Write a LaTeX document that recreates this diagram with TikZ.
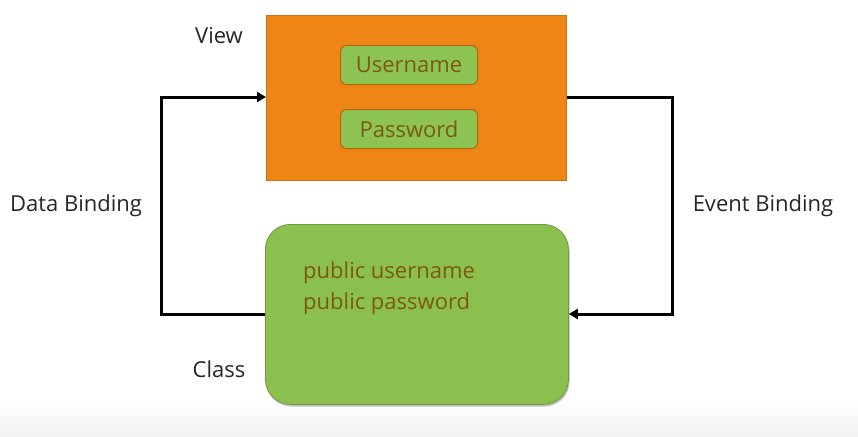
\documentclass[tikz,border=0pt]{standalone}
\usepackage{fontspec}
\setmainfont{Open Sans}
\usetikzlibrary{arrows.meta}
\definecolor{vieworange}{HTML}{EE8514}
\definecolor{classgreen}{HTML}{8BBF4E}
\definecolor{fieldgreen}{HTML}{8DC352}
\definecolor{browntext}{HTML}{7A5A10}
\definecolor{fieldborder}{HTML}{B0660F}
\tikzset{
  lbl/.style={font=\fontsize{22}{26}\selectfont, text=black!85, inner sep=0pt},
  field/.style={draw=fieldborder, line width=1pt, fill=fieldgreen, rounded corners=6pt,
    minimum width=137pt, minimum height=39pt, text=browntext,
    font=\fontsize{22}{26}\selectfont, inner sep=0pt},
  conn/.style={line width=3pt, draw=black, -{Triangle[length=9pt,width=10pt]}},
}
\begin{document}
\begin{tikzpicture}[x=1pt,y=-1pt]
\useasboundingbox (0,0) rectangle (858,436);
\shade[top color=white, bottom color=black!5] (0,400) rectangle (858,436);
% view box
\node[draw=vieworange!85!black, line width=0.8pt, fill=vieworange, minimum width=300pt, minimum height=165pt, inner sep=0pt, anchor=north west] (view) at (266,15) {};
\node[field] (user) at (409,65) {Username};
\node[field] (pass) at (409,129) {Password};
% class box
\fill[black!25, rounded corners=25pt] (266.5,226.5) rectangle (569.5,406.5);
\node[draw=classgreen!80!black, line width=0.8pt, fill=classgreen, rounded corners=25pt, minimum width=303pt, minimum height=180pt, inner sep=0pt, anchor=north west] (cls) at (265,224) {};
\node[text=browntext, font=\fontsize{22}{31}\selectfont, align=left, anchor=north west, inner sep=0pt] (fields) at (303,262) {public username\\public password};
% labels
\node[lbl] (viewlbl) at (219,36) {View};
\node[lbl] (classlbl) at (219,369) {Class};
\node[lbl] (dblbl) at (76,206) {Data Binding};
\node[lbl] (eblbl) at (763,206) {Event Binding};
% connectors
\coordinate (lt) at (161,97);
\coordinate (lb) at (161,314);
\coordinate (rt) at (672,97);
\coordinate (rb) at (672,314);
\draw[conn] (cls.west |- lb) -- (lb) -- (lt) -- (view.west |- lt);
\draw[conn] (view.east |- rt) -- (rt) -- (rb) -- (cls.east |- rb);
\end{tikzpicture}
\end{document}
